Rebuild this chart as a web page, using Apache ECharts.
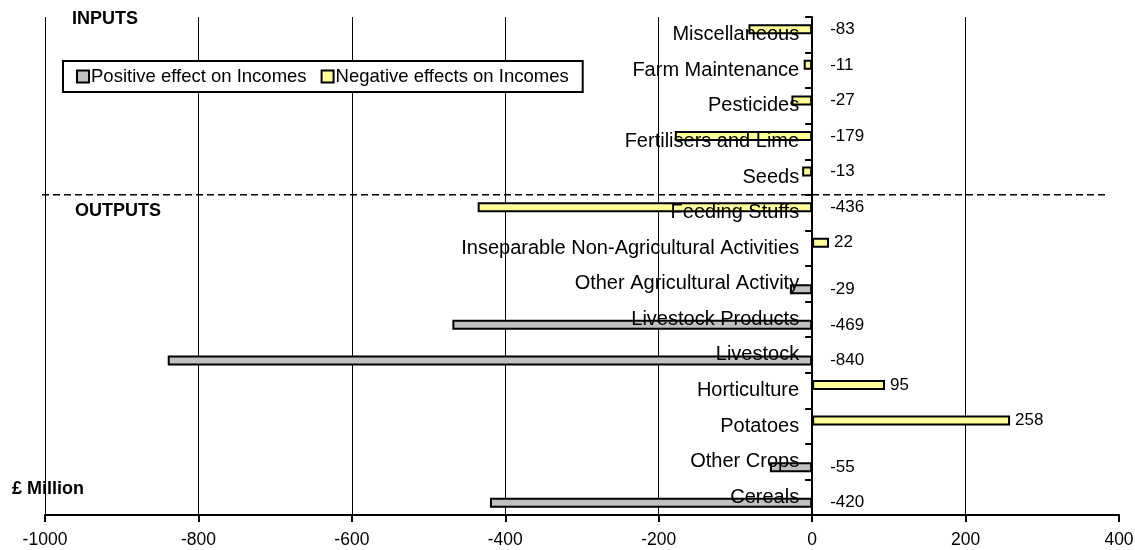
<!DOCTYPE html>
<html>
<head>
<meta charset="utf-8">
<script src="https://cdn.jsdelivr.net/npm/echarts@6/dist/echarts.min.js"></script>
<style>
  html, body { margin: 0; padding: 0; background: #fff; }
  #chart { width: 1135px; height: 550px; }
</style>
</head>
<body>
<div id="chart"></div>
<script>
// Categories, listed top to bottom
const categories = [
  'Miscellaneous', 'Farm Maintenance', 'Pesticides', 'Fertilisers and Lime', 'Seeds',
  'Feeding Stuffs', 'Inseparable Non-Agricultural Activities', 'Other Agricultural Activity',
  'Livestock Products', 'Livestock', 'Horticulture', 'Potatoes', 'Other Crops', 'Cereals'
];

// £ million, per category (null where the category belongs to the other series)
const positiveEffect = [null, null, null, null, null, null, null, -29, -469, -840, null, null, -55, -420];
const negativeEffect = [-83, -11, -27, -179, -13, -436, 22, null, null, null, 95, 258, null, null];

const seriesNames = ['Positive effect on Incomes', 'Negative effects on Incomes'];
const xTicks = { min: -1000, max: 400, interval: 200 };

const FONT = '"Liberation Sans", Arial, sans-serif';
const GRID_LEFT = 45;

// value labels sit just right of each bar's right-hand end
function withLabels(values) {
  return values.map(v => v == null ? null : {
    value: v,
    label: { distance: v < 0 ? 18 : 5 }
  });
}

const chart = echarts.init(document.getElementById('chart'));

const barLabel = {
  show: true,
  position: 'right',
  color: '#000',
  fontSize: 17,
  fontFamily: FONT
};

chart.setOption({
  animation: false,
  backgroundColor: '#fff',
  textStyle: { fontFamily: FONT },
  grid: { left: GRID_LEFT, right: 16, top: 17, bottom: 35, containLabel: false, outerBoundsMode: 'none' },
  legend: {
    data: seriesNames,
    left: 63,
    top: 61,
    orient: 'horizontal',
    itemWidth: 12,
    itemHeight: 12,
    itemGap: 14,
    icon: 'rect',
    padding: [6, 14, 6, 13],
    borderColor: '#000',
    borderWidth: 2,
    backgroundColor: '#fff',
    textStyle: { color: '#000', fontSize: 18.5, fontFamily: FONT, padding: [0, 0, 0, -3] }
  },
  xAxis: {
    type: 'value',
    min: xTicks.min,
    max: xTicks.max,
    interval: xTicks.interval,
    axisLine: { show: true, lineStyle: { color: '#000', width: 2 } },
    axisTick: { show: true, length: 7, lineStyle: { color: '#000', width: 2 } },
    axisLabel: { color: '#000', fontSize: 17.5, fontFamily: FONT, margin: 16, formatter: v => String(v) },
    splitLine: { show: true, showMaxLine: false, lineStyle: { color: '#000', width: 1 } }
  },
  yAxis: {
    type: 'category',
    data: categories,
    inverse: true,
    position: 'left',
    z: 5,
    axisLine: { show: true, onZero: false, lineStyle: { color: '#000', width: 2 } },
    axisTick: { show: true, length: 7, lineStyle: { color: '#000', width: 2 } },
    axisLabel: { color: '#000', fontSize: 20, fontFamily: FONT, margin: 13 },
    splitLine: { show: false }
  },
  series: [
    {
      name: seriesNames[1],
      type: 'bar',
      data: withLabels(negativeEffect),
      barWidth: 10,
      barGap: '10%',
      itemStyle: { color: '#ffff99', borderColor: '#000', borderWidth: 2 },
      label: barLabel
    },
    {
      name: seriesNames[0],
      type: 'bar',
      data: withLabels(positiveEffect),
      barWidth: 10,
      barGap: '10%',
      itemStyle: { color: '#c0c0c0', borderColor: '#000', borderWidth: 2 },
      label: barLabel
    }
  ]
});

// Move the category axis (line, ticks and labels) onto the zero line
const zeroX = chart.convertToPixel({ xAxisIndex: 0 }, 0);
chart.setOption({ yAxis: { offset: GRID_LEFT - zeroX } });

// Section headings and the dashed divider between inputs and outputs
const yTop = chart.convertToPixel({ yAxisIndex: 0 }, 'Seeds');
const yBottom = chart.convertToPixel({ yAxisIndex: 0 }, 'Feeding Stuffs');
const dividerY = (yTop + yBottom) / 2;
const headingFont = 'bold 18px ' + FONT;

chart.setOption({
  graphic: [
    {
      type: 'line',
      shape: { x1: 42, y1: dividerY, x2: 1108, y2: dividerY },
      style: { stroke: '#000', lineWidth: 1.5, lineDash: [7, 4] },
      z: 10
    },
    {
      type: 'text', x: 72, y: 19,
      style: { text: 'INPUTS', font: headingFont, fill: '#000', verticalAlign: 'middle' }
    },
    {
      type: 'text', x: 75, y: dividerY + 16,
      style: { text: 'OUTPUTS', font: headingFont, fill: '#000', verticalAlign: 'middle' }
    },
    {
      type: 'text', x: 12, y: 489,
      style: { text: '£ Million', font: headingFont, fill: '#000', verticalAlign: 'middle' }
    }
  ]
});
</script>
</body>
</html>
